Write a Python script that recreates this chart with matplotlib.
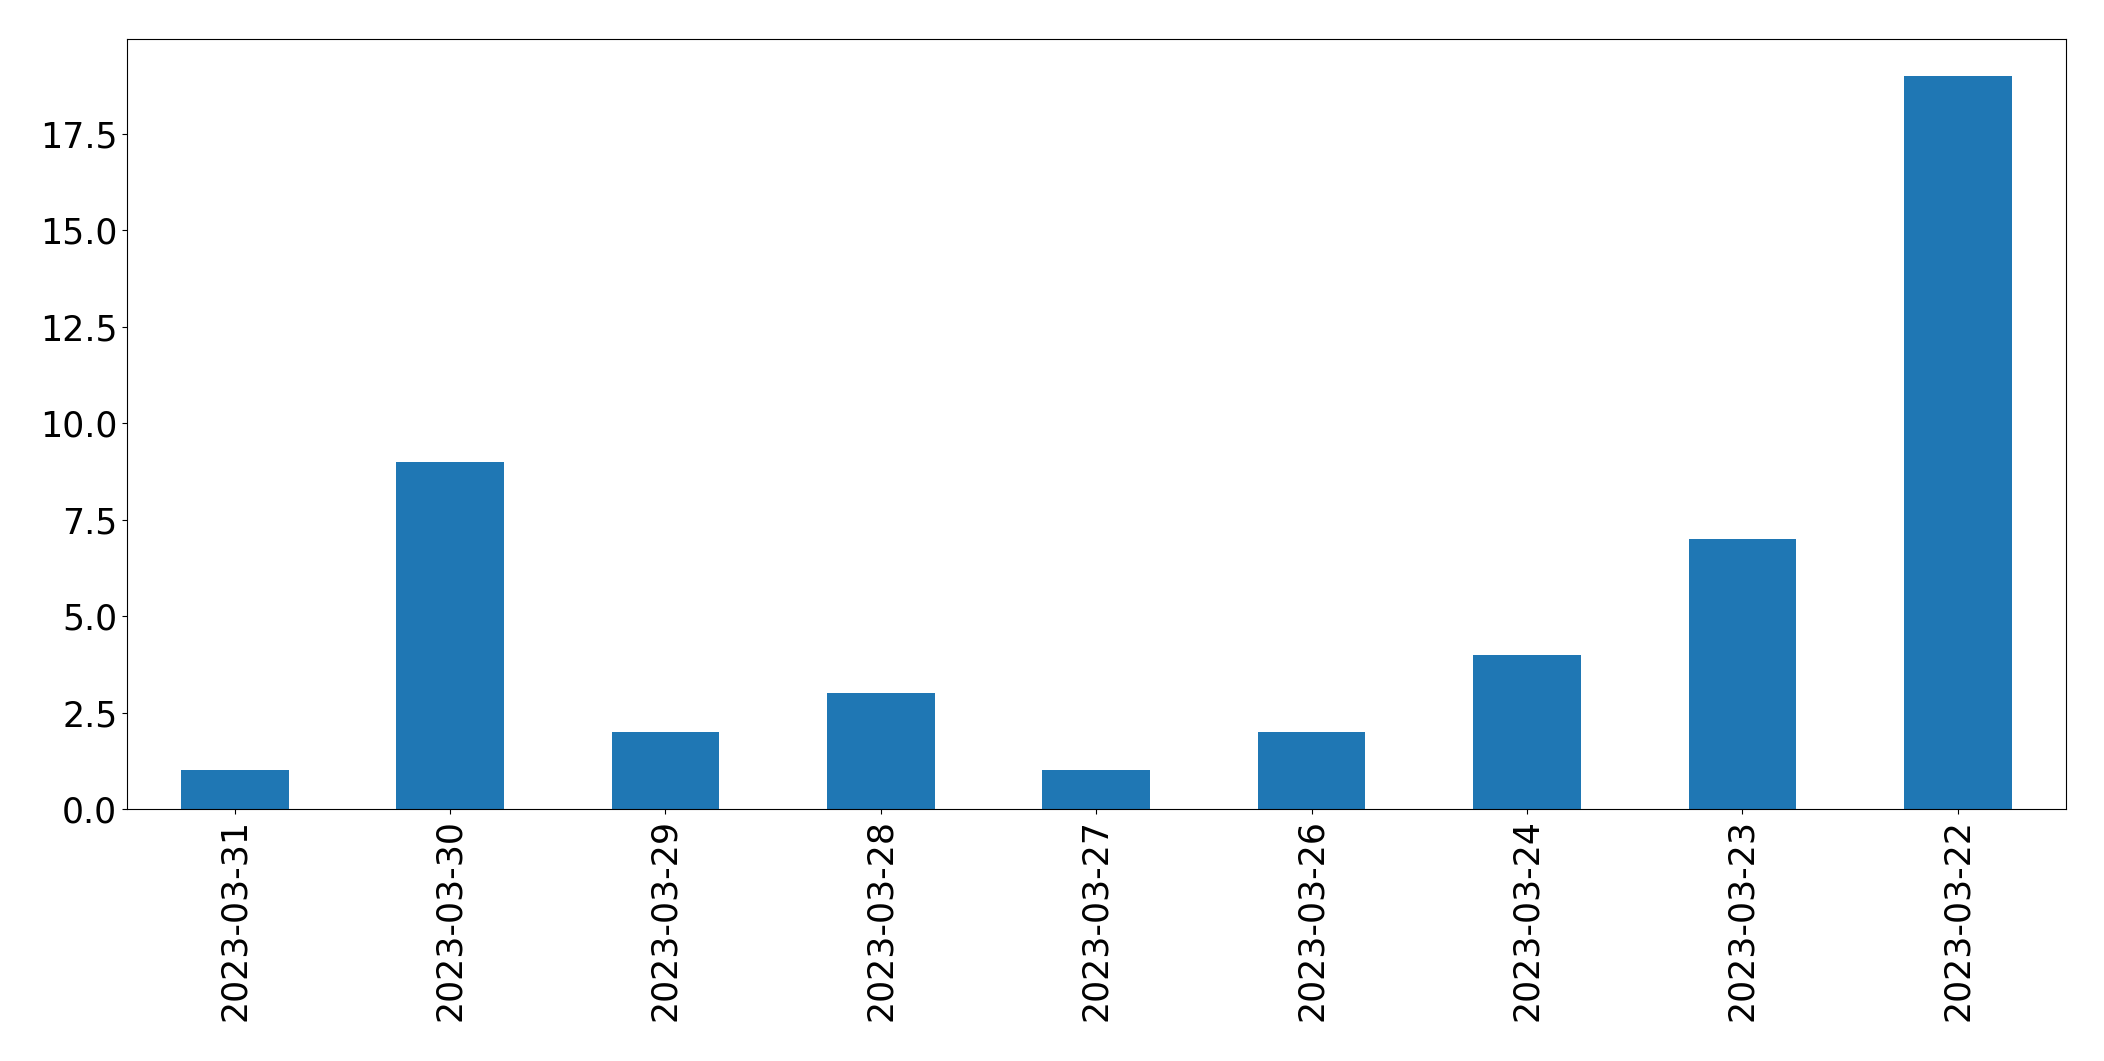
import matplotlib
matplotlib.use("Agg")
import matplotlib.pyplot as plt
import numpy as np

plt.rcParams.update({'font.size': 25})

dates = ['2023-03-31', '2023-03-30', '2023-03-29', '2023-03-28', '2023-03-27',
         '2023-03-26', '2023-03-24', '2023-03-23', '2023-03-22']
counts = [1, 9, 2, 3, 1, 2, 4, 7, 19]

fig = plt.figure(figsize=(21.04, 10.61), dpi=100)
ax = fig.add_axes([127 / 2104, 1 - 809 / 1061, (2065.5 - 127) / 2104, (809 - 39) / 1061])

ind = np.arange(len(dates))
ax.bar(ind, counts, 0.5, color='#1f77b4')
ax.set_xlim(-0.5, len(dates) - 0.5)
ax.set_ylim(0, max(counts) * 1.05)
ax.set_xticks(ind)
ax.set_xticklabels(dates, rotation=90)

fig.savefig('out.png', dpi=100)
